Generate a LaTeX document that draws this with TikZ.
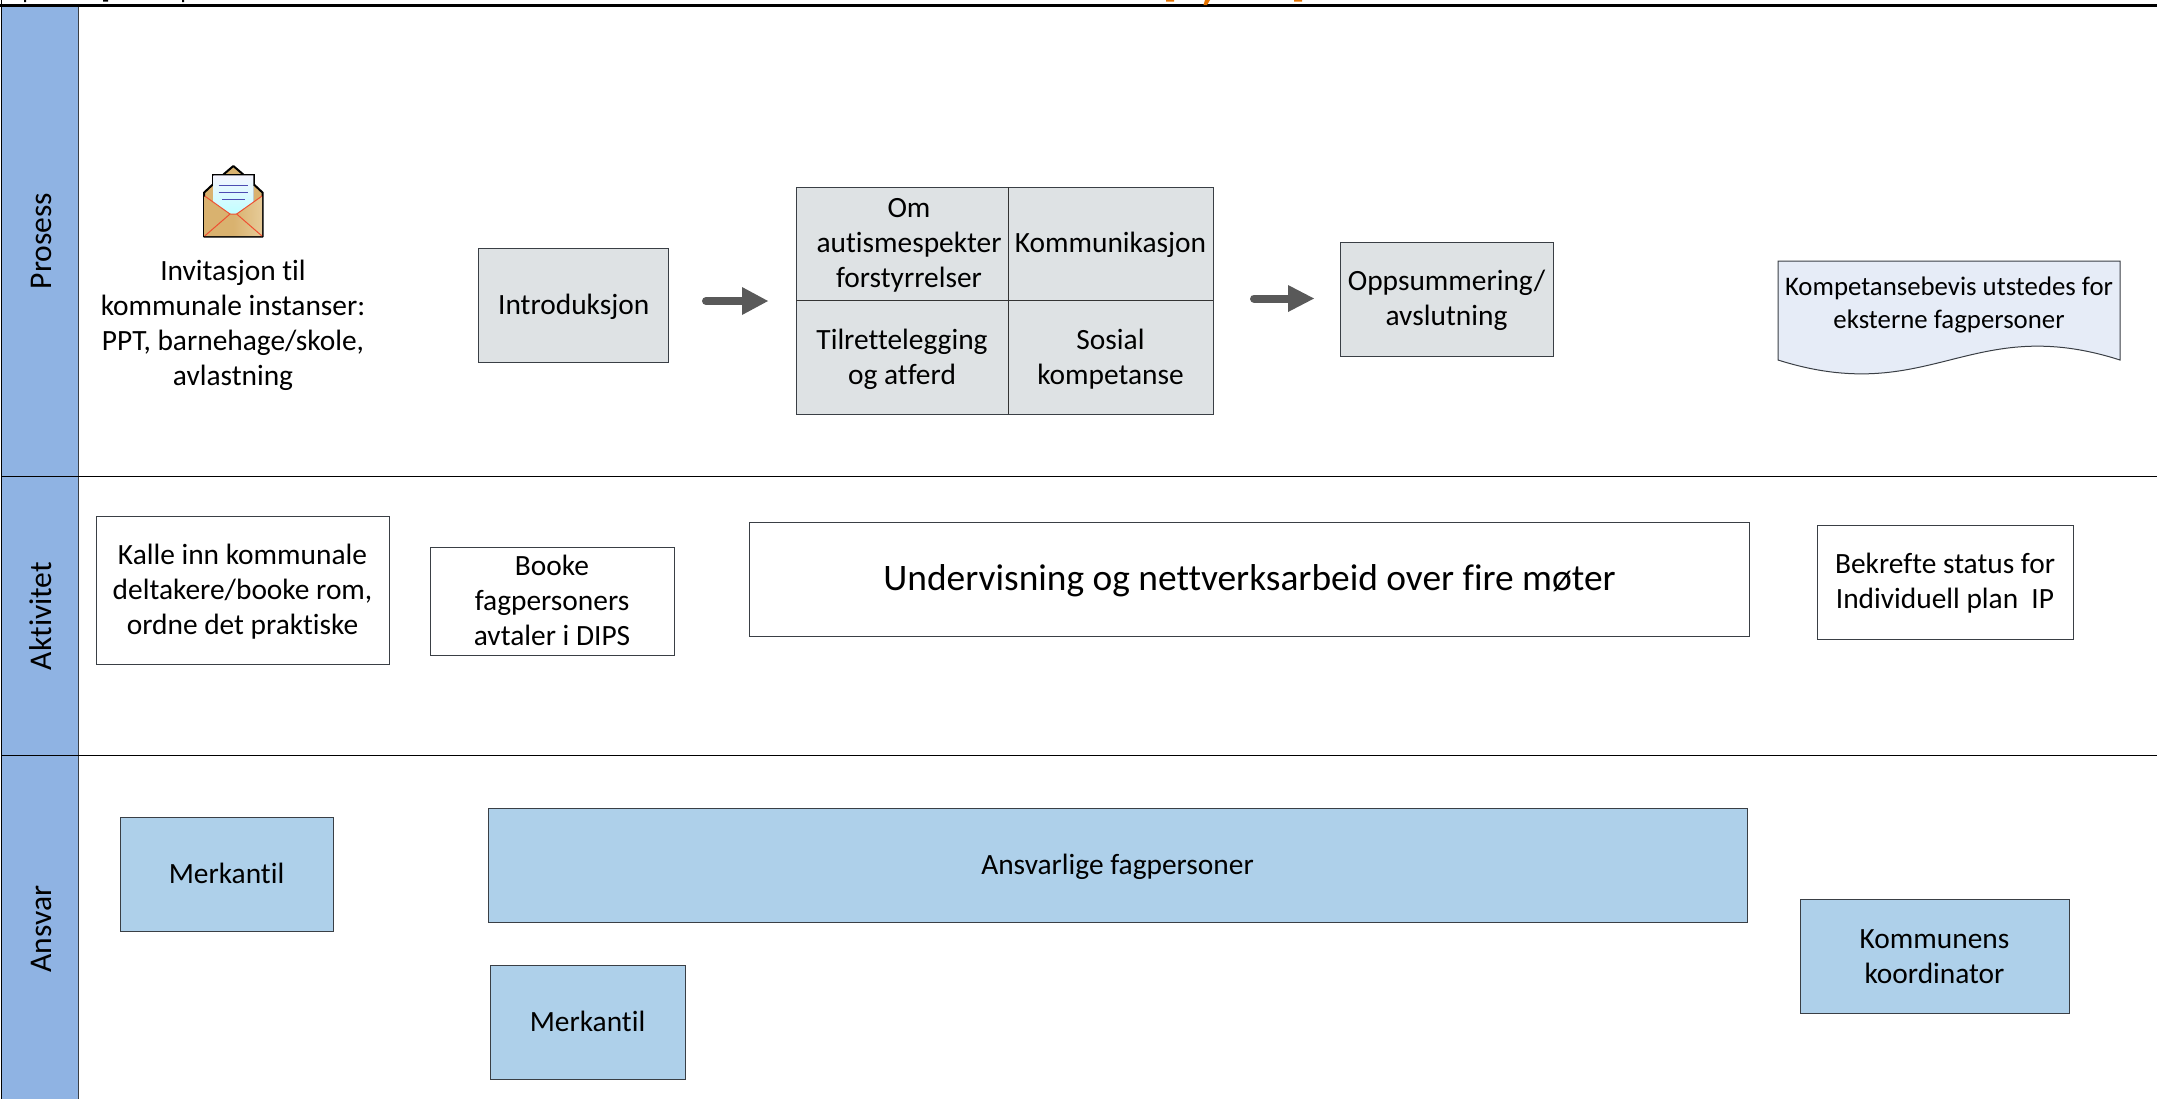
\documentclass[tikz,border=0pt]{standalone}
\usepackage{fontspec}
\setmainfont[Ligatures=NoCommon]{Carlito}
\definecolor{lane}{HTML}{8FB3E3}
\definecolor{graybox}{HTML}{DEE2E4}
\definecolor{bluebox}{HTML}{AED0EA}
\definecolor{docfill}{HTML}{E6ECF7}
\definecolor{arrowc}{HTML}{595959}
\definecolor{boxline}{HTML}{3A3F45}
\definecolor{tanA}{HTML}{D9B26F}
\definecolor{tanB}{HTML}{E6CB98}
\newcommand{\tx}[1]{\raisebox{-1.2pt}[\height][\depth]{\begin{tabular}{@{}c@{}}#1\end{tabular}}}
\tikzset{
 px/.style={x=0.5pt,y=-0.5pt},
 lanelabel/.style={rotate=90,font=\fontsize{15.8}{19}\selectfont,text=black},
 txt/.style={font=\fontsize{14.7}{17.5}\selectfont,text=black},
 greybox/.style={draw=boxline,line width=0.5pt,fill=graybox},
 whitebox/.style={draw=boxline,line width=0.5pt,fill=white},
 blubox/.style={draw=boxline,line width=0.5pt,fill=bluebox},
 blockarrow/.style={draw=arrowc,line width=4pt,line cap=round},
}
\begin{document}
\begin{tikzpicture}[px]
\useasboundingbox (0,0) rectangle (2157,1099);
\fill[white] (0,0) rectangle (2157,1099);
% lanes
\fill[lane] (2,6) rectangle (78,1099);
\draw[line width=0.5pt,color=boxline] (78,6) -- (78,1099);
\draw[line width=0.5pt] (1.5,0) -- (1.5,1099);
\draw[line width=1.5pt] (0,5.5) -- (2157,5.5);
\draw[line width=0.5pt] (2,476) -- (2157,476);
\draw[line width=0.5pt] (2,755) -- (2157,755);
% remains of the cut-off title
\fill[black] (24,0) rectangle (26,2) (103,0) rectangle (108,1.5) (182,0) rectangle (184,2);
\fill[orange!90!black] (1166,0) rectangle (1174,1.5) (1294,0) rectangle (1302,1.5);
\fill[orange!90!black] (1205,0) -- (1210,0) -- (1207,5) -- (1203.5,5) -- cycle;
\node[lanelabel] (l1) at (41,241) {Prosess};
\node[lanelabel] (l2) at (41,616) {Aktivitet};
\node[lanelabel] (l3) at (41,929) {Ansvar};
% envelope
\begin{scope}[shift={(150,150)},x=0.1667pt,y=-0.1667pt]
 \path[draw=black,line width=1pt,line join=round,fill=tanA] (162,128) -- (222,72) -- (250,48) -- (278,72) -- (338,128) -- (338,260) -- (162,260) -- cycle;
 \path[fill=gray!60] (190,100) -- (312,100) -- (312,160) -- (190,160) -- cycle;
 \path[draw=black,line width=1pt] (188,108) -- (188,74) -- (312,74) -- (312,108);
 \path[top color=blue!4,bottom color=cyan!25] (190,76) -- (310,76) -- (310,165) -- (255,192) -- (245,192) -- (190,165) -- cycle;
 \path[left color=tanA,right color=tanB,middle color=tanA] (164,140) -- (240,192) -- (260,192) -- (336,140) -- (336,258) -- (164,258) -- cycle;
 \draw[red!55!tanA,line width=0.5pt] (164,138) -- (240,192) -- (164,258) (336,138) -- (260,192) -- (336,258) (240,192) -- (260,192);
 \draw[blue!40!gray,line width=0.5pt] (206,106) -- (294,106) (206,127) -- (294,127) (216,148) -- (284,148);
\end{scope}
\node[txt] (inv) at (233,324) {\tx{Invitasjon til\\kommunale instanser:\\PPT, barnehage/skole,\\avlastning}};
% process
\node[greybox,txt,minimum width=95pt,minimum height=57pt,inner sep=0pt] (intro) at (573.75,305) {\tx{Introduksjon}};
\path[greybox] (796,187) rectangle (1213,414);
\coordinate (mt) at (1008,187); \coordinate (mb) at (1008,414);
\coordinate (ml) at (796,300); \coordinate (mr) at (1213,300);
\draw[line width=0.5pt,color=black!80] (mt) -- (mb) (ml) -- (mr);
\node[txt] (m1) at (909,243.5) {\tx{Om\\autismespekter\\forstyrrelser}};
\node[txt] (m2) at (1110.5,243.5) {\tx{Kommunikasjon}};
\node[txt] (m3) at (902,358) {\tx{Tilrettelegging\\og atferd}};
\node[txt] (m4) at (1110.5,358) {\tx{Sosial\\kompetanse}};
\node[greybox,txt,minimum width=106.5pt,minimum height=57pt,inner sep=0pt] (opp) at (1446.5,299) {\tx{Oppsummering/\\avslutning}};
\coordinate (a1s) at (706,301); \coordinate (a1e) at (745,301);
\coordinate (a2s) at (1254,298.5); \coordinate (a2e) at (1290,298.5);
\draw[blockarrow] (a1s) -- (a1e);
\fill[arrowc] (742,287) -- (768,301) -- (742,315) -- cycle;
\draw[blockarrow] (a2s) -- (a2e);
\fill[arrowc] (1288,285) -- (1314,298.5) -- (1288,312) -- cycle;
% document
\path[draw=boxline,line width=0.5pt,fill=docfill] (1778,261) -- (2120,261) -- (2120,360) .. controls (1970,312) and (1930,408) .. (1778,360) -- cycle;
\node[txt,font=\fontsize{13.4}{16.5}\selectfont] (doc) at (1949,303) {\tx{Kompetansebevis utstedes for\\eksterne fagpersoner}};
% activity
\node[whitebox,txt,minimum width=146.5pt,minimum height=74pt,inner sep=0pt] (kalle) at (242.5,590) {\tx{Kalle inn kommunale\\deltakere/booke rom,\\ordne det praktiske}};
\node[whitebox,txt,minimum width=122pt,minimum height=54pt,inner sep=0pt] (booke) at (552,601) {\tx{Booke\\fagpersoners\\avtaler i DIPS}};
\node[whitebox,txt,font=\fontsize{18.7}{22}\selectfont,minimum width=500pt,minimum height=57pt,inner sep=0pt] (und) at (1249.5,579) {\tx{Undervisning og nettverksarbeid over fire møter}};
\node[whitebox,txt,minimum width=128pt,minimum height=57pt,inner sep=0pt] (bek) at (1945,582) {\tx{Bekrefte status for\\Individuell plan\ \ IP}};
% responsibility
\node[blubox,txt,minimum width=106.5pt,minimum height=57pt,inner sep=0pt] (mk1) at (226.5,874) {\tx{Merkantil}};
\node[blubox,txt,minimum width=629.5pt,minimum height=57pt,inner sep=0pt] (ans) at (1117.5,865) {\tx{Ansvarlige fagpersoner}};
\node[blubox,txt,minimum width=97.5pt,minimum height=57pt,inner sep=0pt] (mk2) at (587.5,1022) {\tx{Merkantil}};
\node[blubox,txt,minimum width=134.5pt,minimum height=57pt,inner sep=0pt] (kom) at (1934.5,956.5) {\tx{Kommunens\\koordinator}};
\end{tikzpicture}
\end{document}
